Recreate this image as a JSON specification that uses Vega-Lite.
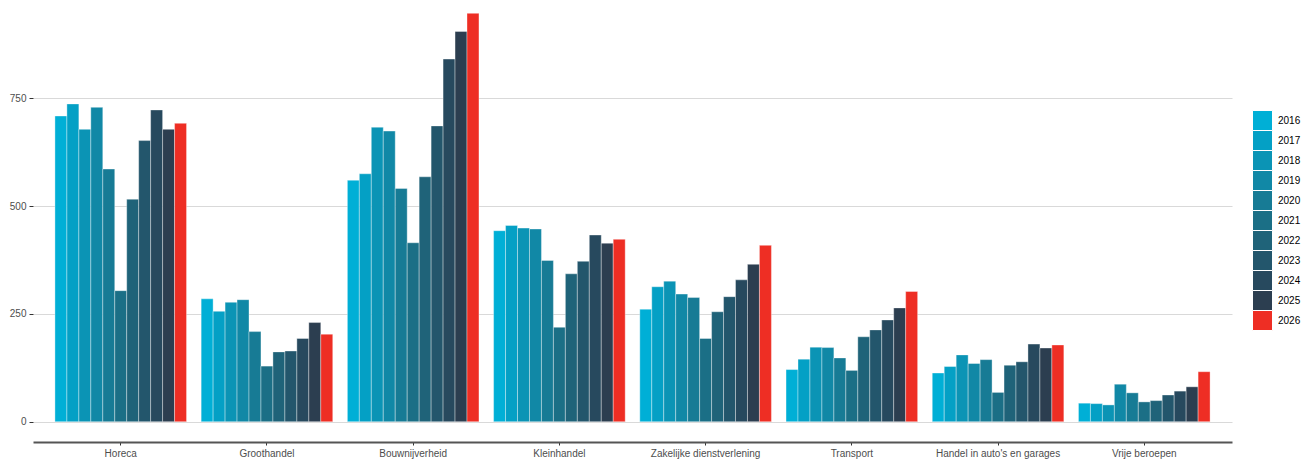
{
  "$schema": "https://vega.github.io/schema/vega-lite/v6.json",
  "autosize": {"type": "none"},
  "width": 1199,
  "height": 442,
  "padding": {"left": 33, "top": 0, "right": 71, "bottom": 17},
  "background": "white",
  "config": {
    "font": "Liberation Sans",
    "view": {"stroke": null}
  },
  "data": {
    "values": [
      {"sector": "Horeca", "jaar": "2016", "aantal": 709},
      {"sector": "Horeca", "jaar": "2017", "aantal": 737},
      {"sector": "Horeca", "jaar": "2018", "aantal": 678},
      {"sector": "Horeca", "jaar": "2019", "aantal": 729},
      {"sector": "Horeca", "jaar": "2020", "aantal": 586},
      {"sector": "Horeca", "jaar": "2021", "aantal": 304},
      {"sector": "Horeca", "jaar": "2022", "aantal": 516},
      {"sector": "Horeca", "jaar": "2023", "aantal": 652},
      {"sector": "Horeca", "jaar": "2024", "aantal": 723},
      {"sector": "Horeca", "jaar": "2025", "aantal": 678},
      {"sector": "Horeca", "jaar": "2026", "aantal": 692},
      {"sector": "Groothandel", "jaar": "2016", "aantal": 285},
      {"sector": "Groothandel", "jaar": "2017", "aantal": 256},
      {"sector": "Groothandel", "jaar": "2018", "aantal": 277},
      {"sector": "Groothandel", "jaar": "2019", "aantal": 283},
      {"sector": "Groothandel", "jaar": "2020", "aantal": 209},
      {"sector": "Groothandel", "jaar": "2021", "aantal": 129},
      {"sector": "Groothandel", "jaar": "2022", "aantal": 162},
      {"sector": "Groothandel", "jaar": "2023", "aantal": 164},
      {"sector": "Groothandel", "jaar": "2024", "aantal": 193},
      {"sector": "Groothandel", "jaar": "2025", "aantal": 230},
      {"sector": "Groothandel", "jaar": "2026", "aantal": 203},
      {"sector": "Bouwnijverheid", "jaar": "2016", "aantal": 560},
      {"sector": "Bouwnijverheid", "jaar": "2017", "aantal": 575},
      {"sector": "Bouwnijverheid", "jaar": "2018", "aantal": 683},
      {"sector": "Bouwnijverheid", "jaar": "2019", "aantal": 674},
      {"sector": "Bouwnijverheid", "jaar": "2020", "aantal": 541},
      {"sector": "Bouwnijverheid", "jaar": "2021", "aantal": 415},
      {"sector": "Bouwnijverheid", "jaar": "2022", "aantal": 568},
      {"sector": "Bouwnijverheid", "jaar": "2023", "aantal": 686},
      {"sector": "Bouwnijverheid", "jaar": "2024", "aantal": 841},
      {"sector": "Bouwnijverheid", "jaar": "2025", "aantal": 905},
      {"sector": "Bouwnijverheid", "jaar": "2026", "aantal": 947},
      {"sector": "Kleinhandel", "jaar": "2016", "aantal": 443},
      {"sector": "Kleinhandel", "jaar": "2017", "aantal": 455},
      {"sector": "Kleinhandel", "jaar": "2018", "aantal": 449},
      {"sector": "Kleinhandel", "jaar": "2019", "aantal": 447},
      {"sector": "Kleinhandel", "jaar": "2020", "aantal": 374},
      {"sector": "Kleinhandel", "jaar": "2021", "aantal": 219},
      {"sector": "Kleinhandel", "jaar": "2022", "aantal": 343},
      {"sector": "Kleinhandel", "jaar": "2023", "aantal": 372},
      {"sector": "Kleinhandel", "jaar": "2024", "aantal": 433},
      {"sector": "Kleinhandel", "jaar": "2025", "aantal": 414},
      {"sector": "Kleinhandel", "jaar": "2026", "aantal": 423},
      {"sector": "Zakelijke dienstverlening", "jaar": "2016", "aantal": 261},
      {"sector": "Zakelijke dienstverlening", "jaar": "2017", "aantal": 313},
      {"sector": "Zakelijke dienstverlening", "jaar": "2018", "aantal": 326},
      {"sector": "Zakelijke dienstverlening", "jaar": "2019", "aantal": 296},
      {"sector": "Zakelijke dienstverlening", "jaar": "2020", "aantal": 288},
      {"sector": "Zakelijke dienstverlening", "jaar": "2021", "aantal": 193},
      {"sector": "Zakelijke dienstverlening", "jaar": "2022", "aantal": 255},
      {"sector": "Zakelijke dienstverlening", "jaar": "2023", "aantal": 290},
      {"sector": "Zakelijke dienstverlening", "jaar": "2024", "aantal": 329},
      {"sector": "Zakelijke dienstverlening", "jaar": "2025", "aantal": 365},
      {"sector": "Zakelijke dienstverlening", "jaar": "2026", "aantal": 409},
      {"sector": "Transport", "jaar": "2016", "aantal": 121},
      {"sector": "Transport", "jaar": "2017", "aantal": 145},
      {"sector": "Transport", "jaar": "2018", "aantal": 173},
      {"sector": "Transport", "jaar": "2019", "aantal": 172},
      {"sector": "Transport", "jaar": "2020", "aantal": 148},
      {"sector": "Transport", "jaar": "2021", "aantal": 119},
      {"sector": "Transport", "jaar": "2022", "aantal": 197},
      {"sector": "Transport", "jaar": "2023", "aantal": 213},
      {"sector": "Transport", "jaar": "2024", "aantal": 236},
      {"sector": "Transport", "jaar": "2025", "aantal": 264},
      {"sector": "Transport", "jaar": "2026", "aantal": 302},
      {"sector": "Handel in auto's en garages", "jaar": "2016", "aantal": 113},
      {"sector": "Handel in auto's en garages", "jaar": "2017", "aantal": 128},
      {"sector": "Handel in auto's en garages", "jaar": "2018", "aantal": 155},
      {"sector": "Handel in auto's en garages", "jaar": "2019", "aantal": 135},
      {"sector": "Handel in auto's en garages", "jaar": "2020", "aantal": 144},
      {"sector": "Handel in auto's en garages", "jaar": "2021", "aantal": 68},
      {"sector": "Handel in auto's en garages", "jaar": "2022", "aantal": 131},
      {"sector": "Handel in auto's en garages", "jaar": "2023", "aantal": 139},
      {"sector": "Handel in auto's en garages", "jaar": "2024", "aantal": 180},
      {"sector": "Handel in auto's en garages", "jaar": "2025", "aantal": 171},
      {"sector": "Handel in auto's en garages", "jaar": "2026", "aantal": 178},
      {"sector": "Vrije beroepen", "jaar": "2016", "aantal": 43},
      {"sector": "Vrije beroepen", "jaar": "2017", "aantal": 42},
      {"sector": "Vrije beroepen", "jaar": "2018", "aantal": 39},
      {"sector": "Vrije beroepen", "jaar": "2019", "aantal": 87},
      {"sector": "Vrije beroepen", "jaar": "2020", "aantal": 67},
      {"sector": "Vrije beroepen", "jaar": "2021", "aantal": 46},
      {"sector": "Vrije beroepen", "jaar": "2022", "aantal": 49},
      {"sector": "Vrije beroepen", "jaar": "2023", "aantal": 62},
      {"sector": "Vrije beroepen", "jaar": "2024", "aantal": 71},
      {"sector": "Vrije beroepen", "jaar": "2025", "aantal": 81},
      {"sector": "Vrije beroepen", "jaar": "2026", "aantal": 116}
    ]
  },
  "mark": {"type": "bar", "stroke": "white", "strokeWidth": 0.6, "strokeOpacity": 0.6},
  "encoding": {
    "x": {
      "field": "sector",
      "type": "nominal",
      "sort": null,
      "scale": {"paddingInner": 0.1, "paddingOuter": 0.15},
      "axis": {
        "title": null,
        "labelAngle": 0,
        "labelFontSize": 10,
        "labelColor": "#4d4d4d",
        "labelPadding": 3,
        "domainColor": "#555555",
        "domainWidth": 2,
        "tickColor": "#333333",
        "tickSize": 3,
        "tickWidth": 1
      }
    },
    "xOffset": {"field": "jaar", "type": "nominal", "sort": null},
    "y": {
      "field": "aantal",
      "type": "quantitative",
      "scale": {"domain": [-47, 978], "nice": false, "zero": false},
      "axis": {
        "title": null,
        "values": [0, 250, 500, 750],
        "domain": false,
        "grid": true,
        "gridColor": "#d9d9d9",
        "gridWidth": 1,
        "labelFontSize": 10,
        "labelColor": "#4d4d4d",
        "labelPadding": 3,
        "tickColor": "#333333",
        "tickSize": 4,
        "tickWidth": 1
      }
    },
    "color": {
      "field": "jaar",
      "type": "nominal",
      "scale": {
        "domain": ["2016", "2017", "2018", "2019", "2020", "2021", "2022", "2023", "2024", "2025", "2026"],
        "range": ["#00afd6", "#04a0c5", "#0b94b5", "#1188a6", "#177b95", "#1b6f86", "#1f6379", "#23566c", "#27495e", "#2c3e50", "#ee2e24"]
      },
      "legend": {
        "title": null,
        "orient": "none",
        "legendX": 1219,
        "legendY": 110,
        "gridAlign": "none",
        "symbolType": "square",
        "symbolSize": 400,
        "symbolOpacity": 1,
        "symbolStrokeColor": "white",
        "symbolStrokeWidth": 1,
        "rowPadding": -5,
        "labelFontSize": 10,
        "labelColor": "#000000",
        "labelOffset": 5
      }
    }
  }
}
